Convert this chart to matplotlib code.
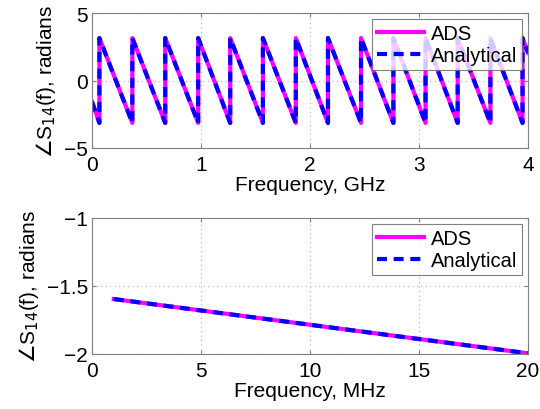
import numpy as np
import matplotlib
matplotlib.use('Agg')
import matplotlib.pyplot as plt

plt.rcParams['font.family'] = ['Liberation Sans', 'DejaVu Sans']
plt.rcParams['font.size'] = 14

# top panel: wrapped phase, 0-4 GHz (jump frequencies)
phase_start = -1.57
jump_freq_ghz = [0.068, 0.370, 0.672, 0.974, 1.268, 1.568, 1.870,
                 2.165, 2.468, 2.765, 3.060, 3.355, 3.655, 3.950]
phase_end = 2.05
f_end_ghz = 4.0

# bottom panel: unwrapped phase, 1-20 MHz
freq_mhz = [1, 20]
phase_low = [-1.596, -1.995]

# build sawtooth vertices from the read jump points
fx = [0.0]
py = [phase_start]
for fj in jump_freq_ghz:
    fx += [fj, fj]
    py += [-np.pi, np.pi]
fx.append(f_end_ghz)
py.append(phase_end)

fig = plt.figure(figsize=(5.4, 4.1), dpi=100)
ax1 = fig.add_axes([92 / 540, 1 - 149 / 410, 436 / 540, 135 / 410])
ax2 = fig.add_axes([92 / 540, 1 - 355 / 410, 436 / 540, 136 / 410])

magenta = '#ff00ff'
blue = '#0000ff'

for ax, x, y in [(ax1, fx, py), (ax2, freq_mhz, phase_low)]:
    ax.plot(x, y, color=magenta, lw=3, label='ADS')
    ax.plot(x, y, color=blue, lw=3, ls=(0, (2.4, 1.6)), label='Analytical')
    ax.grid(True, ls=(0, (1, 3)), color='#b0b0b0', lw=0.8)
    for s in ax.spines.values():
        s.set_color('#808080')
    ax.tick_params(direction='in', length=3, color='#808080', labelsize=15,
                   top=True, right=True)
    ax.tick_params(axis='x', pad=5)
    ax.tick_params(axis='y', pad=3)
    ax.set_ylabel(r'$\angle$S$_{14}$(f), radians', fontsize=15, labelpad=4)
    leg = ax.legend(loc='upper right', fontsize=14.5, frameon=True, fancybox=False,
                    borderaxespad=0.3, handlelength=2.3, handletextpad=0.35,
                    borderpad=0.25, labelspacing=0.15)
    leg.get_frame().set_edgecolor('#606060')
    leg.get_frame().set_linewidth(0.8)

ax1.set_xlim(0, 4)
ax1.set_ylim(-5, 5)
ax1.set_xticks([0, 1, 2, 3, 4])
ax1.set_yticks([-5, 0, 5])
ax1.set_xlabel('Frequency, GHz', fontsize=15, labelpad=1)

ax2.set_xlim(0, 20)
ax2.set_ylim(-2, -1)
ax2.set_xticks([0, 5, 10, 15, 20])
ax2.set_yticks([-2, -1.5, -1])
ax2.set_yticklabels(['\u22122', '\u22121.5', '\u22121'])
ax2.set_xlabel('Frequency, MHz', fontsize=15, labelpad=1)

fig.savefig('out.png', dpi=100)
